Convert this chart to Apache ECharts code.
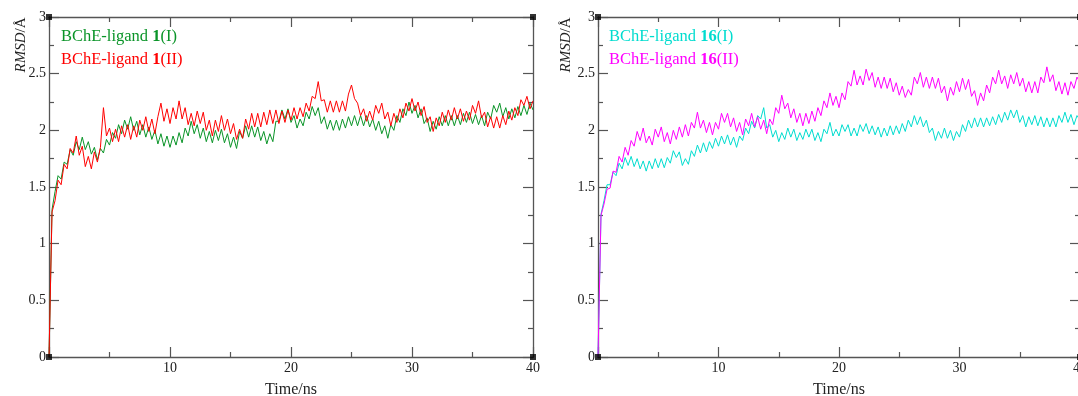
<!DOCTYPE html>
<html>
<head>
<meta charset="utf-8">
<script src="https://cdn.jsdelivr.net/npm/echarts@6/dist/echarts.min.js"></script>
<style>
html,body{margin:0;padding:0;background:#fff;}
#c{width:1078px;height:396px;}
</style>
</head>
<body>
<div id="c"></div>
<script>
// sampling step of the traces (ns)
const step = 0.25;
const xTicks = [0, 10, 20, 30, 40];
const yTicks = [0, 0.5, 1, 1.5, 2, 2.5, 3];
const seriesNames = ['BChE-ligand 1(I)', 'BChE-ligand 1(II)', 'BChE-ligand 16(I)', 'BChE-ligand 16(II)'];

// RMSD values (Å), one value every 0.25 ns from 0 to 40 ns
const lig1_I = [
0,1.30,1.46,1.60,1.57,1.72,1.70,1.83,1.78,1.90,1.83,1.94,1.83,1.90,1.79,1.85,1.74,1.84,1.80,1.92,
1.87,1.98,1.93,2.05,1.97,2.09,2.01,2.12,2.00,2.08,1.96,2.05,1.94,2.03,1.92,2.00,1.88,1.97,1.86,1.95,
1.85,1.95,1.87,1.98,1.89,2.02,1.95,2.08,1.97,2.05,1.93,2.02,1.90,1.99,1.89,2.00,1.91,2.01,1.89,1.97,
1.85,1.94,1.84,1.99,1.93,2.04,1.94,2.04,1.94,2.03,1.91,1.99,1.88,1.97,1.90,2.08,2.08,2.18,2.10,2.19,
2.07,2.13,2.02,2.10,2.04,2.16,2.10,2.21,2.13,2.20,2.06,2.12,2.01,2.09,2.00,2.09,2.00,2.10,2.02,2.12,
2.04,2.13,2.04,2.13,2.04,2.13,2.03,2.10,2.00,2.08,1.97,2.04,1.93,2.05,2.00,2.13,2.07,2.19,2.13,2.25,
2.15,2.22,2.11,2.19,2.06,2.11,1.99,2.08,2.01,2.12,2.04,2.13,2.04,2.13,2.04,2.13,2.05,2.15,2.07,2.16,
2.06,2.14,2.05,2.13,2.04,2.16,2.10,2.22,2.16,2.24,2.12,2.20,2.10,2.19,2.11,2.21,2.13,2.22,2.14,2.24,
2.18];
const lig1_II = [
0,1.28,1.38,1.56,1.52,1.70,1.66,1.84,1.80,1.95,1.78,1.86,1.68,1.77,1.66,1.81,1.72,1.85,2.20,1.95,
2.02,1.90,2.01,1.90,2.04,1.94,2.05,1.92,2.04,1.94,2.09,2.00,2.12,1.99,2.10,1.97,2.12,2.24,2.08,2.19,
2.06,2.20,2.10,2.26,2.10,2.20,2.05,2.15,2.04,2.17,2.06,2.16,2.00,2.09,1.95,2.09,1.99,2.13,2.00,2.10,
1.97,2.06,1.92,2.01,1.93,2.10,2.01,2.15,2.03,2.15,2.03,2.16,2.05,2.18,2.06,2.18,2.06,2.17,2.07,2.18,
2.09,2.20,2.10,2.20,2.12,2.24,2.17,2.30,2.28,2.43,2.26,2.27,2.16,2.26,2.16,2.26,2.16,2.26,2.17,2.32,
2.40,2.28,2.24,2.13,2.19,2.08,2.17,2.09,2.22,2.15,2.24,2.10,2.16,2.04,2.15,2.07,2.19,2.11,2.24,2.17,
2.28,2.17,2.25,2.13,2.21,2.07,2.12,1.99,2.11,2.04,2.16,2.07,2.18,2.09,2.20,2.10,2.19,2.08,2.17,2.09,
2.22,2.15,2.26,2.11,2.16,2.03,2.12,2.02,2.12,2.02,2.13,2.05,2.17,2.09,2.20,2.13,2.27,2.22,2.30,2.19,
2.26];
const lig16_I = [
0,1.26,1.38,1.52,1.52,1.63,1.60,1.71,1.66,1.76,1.69,1.77,1.68,1.75,1.66,1.73,1.64,1.73,1.66,1.75,
1.67,1.75,1.67,1.76,1.71,1.82,1.76,1.81,1.69,1.75,1.70,1.82,1.77,1.87,1.80,1.89,1.81,1.90,1.84,1.93,
1.86,1.95,1.88,1.96,1.87,1.94,1.85,1.95,1.91,2.02,1.97,2.08,2.02,2.13,2.10,2.20,2.02,2.05,1.94,2.00,
1.90,1.98,1.92,2.02,1.94,2.01,1.91,1.98,1.92,2.01,1.94,2.01,1.91,1.98,1.90,2.01,1.97,2.07,1.95,2.01,
1.95,2.05,1.99,2.05,1.95,2.02,1.95,2.05,1.99,2.06,1.97,2.04,1.96,2.03,1.94,2.02,1.95,2.04,1.96,2.04,
1.97,2.06,1.99,2.09,2.03,2.13,2.05,2.12,2.03,2.09,1.98,2.02,1.91,1.99,1.93,2.02,1.93,2.00,1.91,1.99,
1.94,2.05,1.99,2.09,2.02,2.11,2.03,2.11,2.03,2.11,2.04,2.12,2.05,2.14,2.07,2.16,2.09,2.18,2.11,2.18,
2.07,2.13,2.03,2.12,2.05,2.13,2.04,2.12,2.03,2.11,2.03,2.11,2.03,2.13,2.07,2.16,2.07,2.14,2.05,2.13,
2.09];
const lig16_II = [
0,1.25,1.35,1.48,1.49,1.64,1.63,1.77,1.72,1.85,1.78,1.91,1.86,1.99,1.91,2.02,1.89,1.95,1.87,2.01,
1.94,2.03,1.90,1.98,1.88,2.00,1.92,2.03,1.94,2.05,1.95,2.07,2.02,2.16,2.02,2.09,1.98,2.07,1.96,2.07,
2.01,2.15,2.07,2.15,2.03,2.11,1.99,2.07,1.96,2.10,2.04,2.15,2.03,2.12,2.01,2.09,1.97,2.10,2.05,2.20,
2.15,2.31,2.19,2.24,2.11,2.19,2.07,2.15,2.04,2.15,2.06,2.17,2.08,2.20,2.13,2.26,2.20,2.33,2.22,2.30,
2.20,2.33,2.27,2.43,2.39,2.53,2.40,2.48,2.40,2.54,2.44,2.51,2.38,2.47,2.37,2.47,2.37,2.46,2.34,2.42,
2.31,2.39,2.29,2.36,2.31,2.47,2.41,2.51,2.38,2.47,2.37,2.47,2.37,2.46,2.33,2.39,2.26,2.38,2.31,2.43,
2.34,2.46,2.36,2.45,2.30,2.35,2.22,2.33,2.26,2.40,2.33,2.47,2.41,2.53,2.41,2.48,2.37,2.49,2.41,2.51,
2.39,2.46,2.34,2.43,2.33,2.43,2.33,2.47,2.42,2.56,2.43,2.49,2.35,2.43,2.32,2.42,2.31,2.43,2.37,2.47,
2.42];

const pairs = vals => vals.map((v, i) => [i * step, v]);

const chart = echarts.init(document.getElementById('c'), null, {renderer: 'canvas'});
const FONT = '"Liberation Serif", "DejaVu Serif", serif';
const AX = '#555';
const TXT = '#222';

function xAxes(gi) {
  const base = {
    gridIndex: gi, type: 'value', min: xTicks[0], max: xTicks[xTicks.length - 1], interval: 10,
    axisLine: {show: true, onZero: false, lineStyle: {color: AX, width: 1.3}},
    axisTick: {show: true, inside: true, length: 10, lineStyle: {color: AX, width: 1.2}},
    minorTick: {show: true, splitNumber: 2, length: 5, lineStyle: {color: AX, width: 1.2}},
    splitLine: {show: false}, minorSplitLine: {show: false}
  };
  return [
    Object.assign({}, base, {
      position: 'bottom',
      name: 'Time/ns', nameLocation: 'middle', nameGap: 25,
      nameTextStyle: {fontFamily: FONT, fontSize: 16, color: TXT},
      axisLabel: {show: true, margin: 4, fontFamily: FONT, fontSize: 14, color: TXT,
        formatter: v => (v === 0 ? '' : String(v))}
    }),
    Object.assign({}, base, {position: 'top', axisLabel: {show: false}})
  ];
}
function yAxes(gi) {
  const base = {
    gridIndex: gi, type: 'value', min: yTicks[0], max: yTicks[yTicks.length - 1], interval: 0.5,
    axisLine: {show: true, onZero: false, lineStyle: {color: AX, width: 1.3}},
    axisTick: {show: true, inside: true, length: 10, lineStyle: {color: AX, width: 1.2}},
    minorTick: {show: true, splitNumber: 2, length: 5, lineStyle: {color: AX, width: 1.2}},
    splitLine: {show: false}, minorSplitLine: {show: false}
  };
  return [
    Object.assign({}, base, {position: 'left',
      axisLabel: {show: true, margin: 3, fontFamily: FONT, fontSize: 14, color: TXT}}),
    Object.assign({}, base, {position: 'right', axisLabel: {show: false}})
  ];
}

const colors = ['#0a9428', '#ff0000', '#00dccf', '#ff00ff'];
const corners = [[0, 3], [0, 0], [40, 0], [40, 3]];

function line(name, data, xi, yi, color) {
  return {
    name, type: 'line', xAxisIndex: xi, yAxisIndex: yi, data: pairs(data),
    showSymbol: false, symbol: 'none', animation: false,
    lineStyle: {color, width: 1}, z: 2
  };
}
function cornerMarks(xi, yi) {
  return {type: 'scatter', xAxisIndex: xi, yAxisIndex: yi, data: corners, symbol: 'rect',
    symbolSize: 6, itemStyle: {color: '#000'}, clip: false, z: 5, silent: true, animation: false};
}

function legendText(x, y, prefix, num, suffix, color) {
  return {
    type: 'text', x, y, z: 10,
    style: {
      text: '{n|' + prefix + '}{b|' + num + '}{n|' + suffix + '}',
      rich: {
        n: {fontFamily: FONT, fontSize: 16.5, fill: color, color: color},
        b: {fontFamily: FONT, fontSize: 16.5, fontWeight: 'bold', fill: color, color: color}
      },
      verticalAlign: 'middle'
    }
  };
}
function yName(x, y) {
  return {
    type: 'text', x, y, rotation: Math.PI / 2, z: 10,
    style: {
      text: '{i|RMSD}{n|/Å}',
      rich: {
        i: {fontFamily: FONT, fontSize: 15, fontStyle: 'italic', fill: TXT, color: TXT},
        n: {fontFamily: FONT, fontSize: 15, fill: TXT, color: TXT}
      },
      align: 'center', verticalAlign: 'middle'
    }
  };
}

chart.setOption({
  animation: false,
  backgroundColor: '#fff',
  grid: [
    {left: 49, top: 17, width: 484, height: 340, containLabel: false, outerBoundsMode: 'none'},
    {left: 598, top: 17, width: 482, height: 340, containLabel: false, outerBoundsMode: 'none'}
  ],
  xAxis: [...xAxes(0), ...xAxes(1)],
  yAxis: [...yAxes(0), ...yAxes(1)],
  series: [
    line(seriesNames[0], lig1_I, 0, 0, colors[0]),
    line(seriesNames[1], lig1_II, 0, 0, colors[1]),
    line(seriesNames[2], lig16_I, 2, 2, colors[2]),
    line(seriesNames[3], lig16_II, 2, 2, colors[3]),
    cornerMarks(0, 0),
    cornerMarks(2, 2)
  ],
  graphic: [
    yName(21, 45),
    yName(566, 45),
    legendText(61, 37, 'BChE-ligand ', '1', '(I)', colors[0]),
    legendText(61, 60, 'BChE-ligand ', '1', '(II)', colors[1]),
    legendText(609, 37, 'BChE-ligand ', '16', '(I)', colors[2]),
    legendText(609, 60, 'BChE-ligand ', '16', '(II)', colors[3])
  ]
});
</script>
</body>
</html>
